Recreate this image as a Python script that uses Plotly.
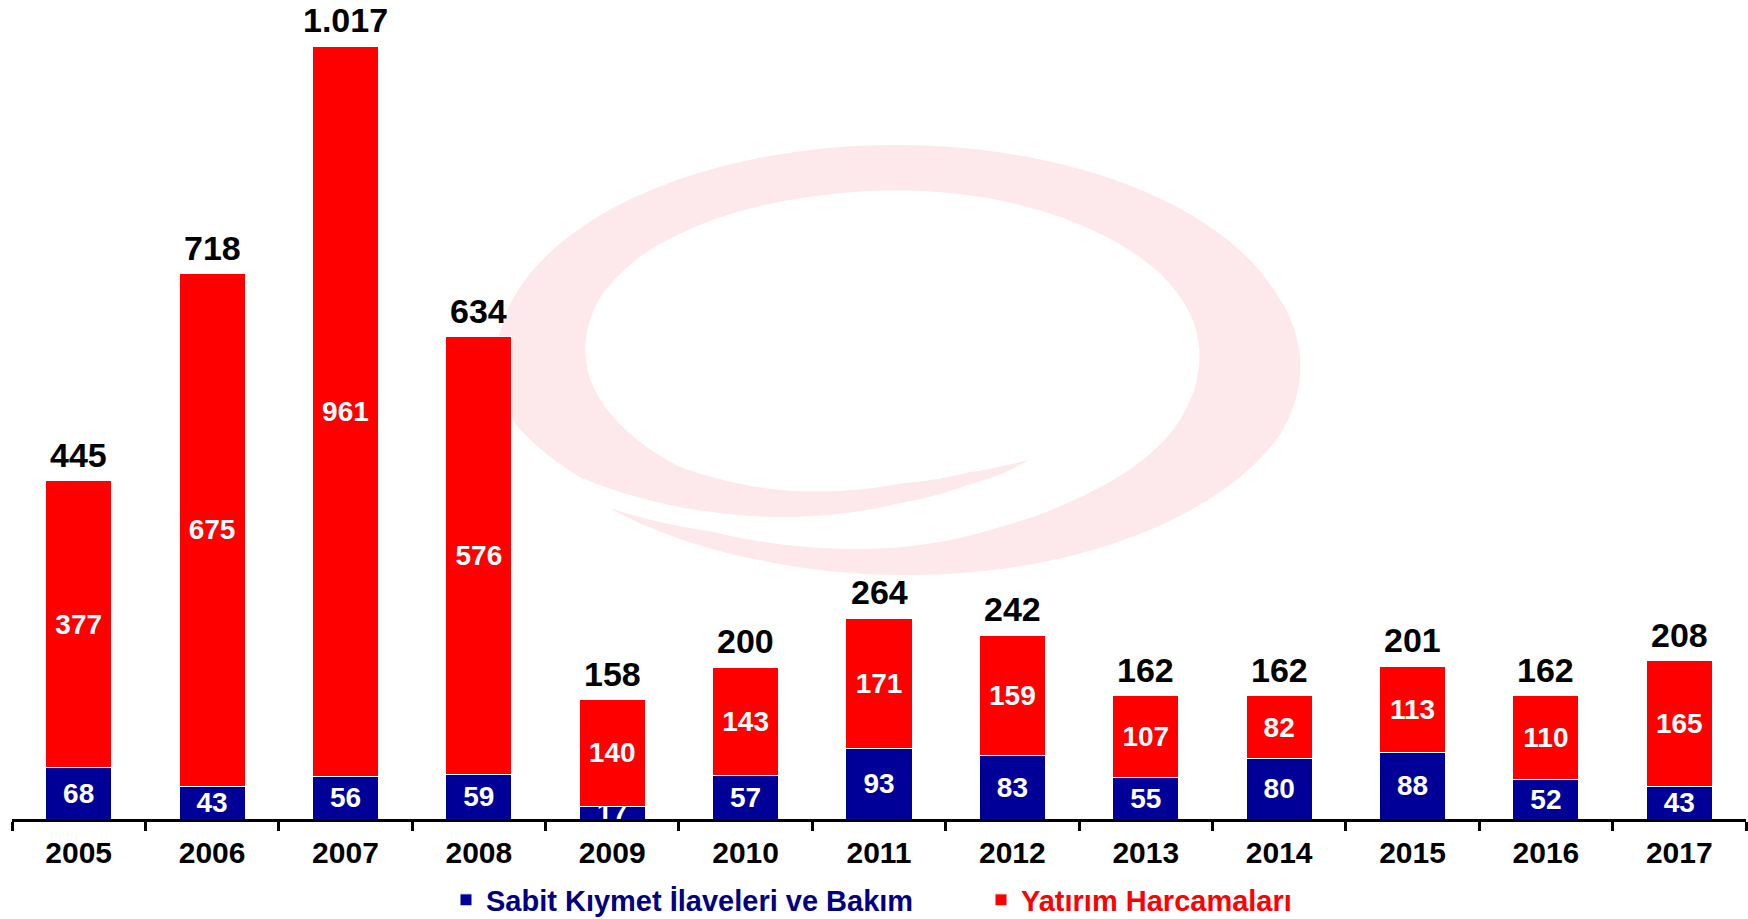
import numpy as np
import plotly.graph_objects as go

# ---- data -------------------------------------------------------------
years = ["2005", "2006", "2007", "2008", "2009", "2010", "2011",
         "2012", "2013", "2014", "2015", "2016", "2017"]
sabit = [68, 43, 56, 59, 17, 57, 93, 83, 55, 80, 88, 52, 43]          # Sabit Kıymet İlaveleri ve Bakım
yatirim = [377, 675, 961, 576, 140, 143, 171, 159, 107, 82, 113, 110, 165]  # Yatırım Harcamaları
toplam = [445, 718, 1017, 634, 158, 200, 264, 242, 162, 162, 201, 162, 208]

name_sabit = "Sabit Kıymet İlaveleri ve Bakım"
name_yatirim = "Yatırım Harcamaları"

BLUE = "#000099"
RED = "#FF0000"
FONT = "Arial, 'Liberation Sans', sans-serif"

W, H = 1748, 919
ML, MR, MT, MB = 12, 2, 0, 100
PW, PH = W - ML - MR, H - MT - MB


def tr_num(v):
    return f"{v:,}".replace(",", ".")


# ---- background swirl logo (pixel geometry -> paper coords) ----------
def px_to_paper(x, y):
    return (x - ML) / PW, (MT + PH - y) / PH


cx, cy, rx, ry = 896, 359, 399, 214
inner_phi = [54.6, 62.9, 71.4, 89.0, 115.4, 137, 156.6, 172.7, 181.4, 201.3, 217.9,
             236.8, 256.4, 268.9, 287.4, 308.9, 327.5, 345.1, 353.3, 364.9, 377.1,
             388.2, 400.4, 409.5, 417.5, 425.1, 431.6, 440.9, 449.4, 463.3, 480, 496]
inner_rho = [0.577, 0.566, 0.560, 0.582, 0.678, 0.740, 0.756, 0.772, 0.778, 0.795, 0.800,
             0.795, 0.787, 0.788, 0.786, 0.778, 0.773, 0.766, 0.762, 0.759, 0.763,
             0.771, 0.780, 0.787, 0.798, 0.814, 0.827, 0.857, 0.880, 0.905, 0.930, 1.0]
edge_phi = [54.6, 64.7, 72.9, 89.1, 111.5, 128, 145, 162, 340, 380, 430, 470, 496]
edge_rho = [0.577, 0.60, 0.615, 0.673, 0.793, 0.878, 0.965, 1.0, 1.0, 1.025, 1.018, 1.0, 1.0]

phi = np.linspace(54.6, 496, 700)
r_out = np.interp(phi, edge_phi, edge_rho)
r_in = np.interp(phi, inner_phi, inner_rho)
rad = np.radians(phi)
xs = np.concatenate([cx + rx * r_out * np.cos(rad), (cx + rx * r_in * np.cos(rad))[::-1]])
ys = np.concatenate([cy + ry * r_out * np.sin(rad), (cy + ry * r_in * np.sin(rad))[::-1]])
pts = [px_to_paper(x, y) for x, y in zip(xs, ys)]
swirl_path = "M " + " L ".join(f"{a:.5f},{b:.5f}" for a, b in pts) + " Z"

# ---- figure -------------------------------------------------------------
fig = go.Figure()

inside_font = dict(family=FONT, size=28, color="white", weight="bold")

fig.add_trace(go.Bar(
    x=years, y=sabit, name=f"<span style='color:#000080'>{name_sabit}</span>",
    marker=dict(color=BLUE, line=dict(color="white", width=1)),
    text=[str(v) for v in sabit], textposition="inside", insidetextanchor="middle",
    textangle=0, constraintext="none", textfont=inside_font,
    hoverinfo="skip",
))
fig.add_trace(go.Bar(
    x=years, y=yatirim, name=f"<span style='color:{RED}'>{name_yatirim}</span>",
    marker=dict(color=RED, line=dict(color="white", width=1)),
    text=[str(v) for v in yatirim], textposition="inside", insidetextanchor="middle",
    textangle=0, constraintext="none", textfont=inside_font,
    hoverinfo="skip",
))

# total labels above each stack (category axis -> positional index)
stack_top = [a + b for a, b in zip(sabit, yatirim)]
total_labels = [
    dict(x=i, y=top, text=tr_num(t), showarrow=False, xref="x", yref="y",
         yanchor="bottom", xanchor="center", yshift=5,
         font=dict(family=FONT, size=34, color="black", weight="bold"))
    for i, (top, t) in enumerate(zip(stack_top, toplam))
]

fig.update_layout(
    width=W, height=H,
    margin=dict(l=ML, r=MR, t=MT, b=MB, autoexpand=False),
    paper_bgcolor="white", plot_bgcolor="rgba(0,0,0,0)",
    barmode="stack", bargap=0.505,
    showlegend=True,
    legend=dict(
        orientation="h", x=(446 - ML) / PW, xanchor="left",
        y=(PH - (900 - MT)) / PH, yanchor="middle",
        font=dict(family=FONT, size=29, weight="bold"),
        entrywidth=490, entrywidthmode="pixels",
        bgcolor="rgba(0,0,0,0)", traceorder="normal",
    ),
    xaxis=dict(
        type="category", range=[-0.5, len(years) - 0.5],
        showline=True, linecolor="black", linewidth=3,
        ticks="outside", tickson="boundaries", ticklen=9, tickwidth=2.5,
        tickcolor="black", showgrid=False, zeroline=False,
        tickfont=dict(family=FONT, size=30, color="black", weight="bold"),
        ticklabelstandoff=5,
    ),
    yaxis=dict(visible=False, range=[0, 1078], showgrid=False, zeroline=False),
    annotations=total_labels,
    shapes=[dict(type="path", xref="paper", yref="paper", path=swirl_path,
                 fillcolor="#FDE9EB", line=dict(width=0), layer="below")],
    hovermode=False,
)

fig.write_html("out.html")
